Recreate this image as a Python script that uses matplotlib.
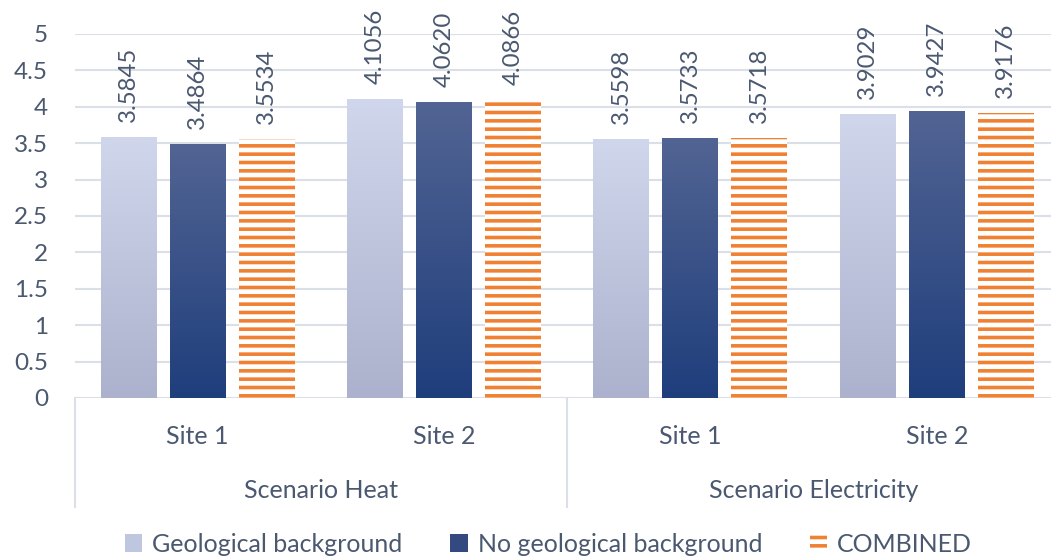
import numpy as np
import matplotlib
matplotlib.use("Agg")
import matplotlib.pyplot as plt
from matplotlib.colors import LinearSegmentedColormap
from matplotlib.patches import Patch
from matplotlib.lines import Line2D

# --- data -------------------------------------------------------------
scenarios = ["Scenario Heat", "Scenario Electricity"]
sites = ["Site 1", "Site 2", "Site 1", "Site 2"]
series_names = ["Geological background", "No geological background", "COMBINED"]
geological = [3.5845, 4.1056, 3.5598, 3.9029]
no_geological = [3.4864, 4.0620, 3.5733, 3.9427]
combined = [3.5534, 4.0866, 3.5718, 3.9176]
y_ticks = [0, 0.5, 1, 1.5, 2, 2.5, 3, 3.5, 4, 4.5, 5]

# --- style ------------------------------------------------------------
plt.rcParams["font.family"] = ["Lato", "DejaVu Sans"]
plt.rcParams["hatch.linewidth"] = 2.6
TEXT = "#4A5870"
GRID = "#DADFE8"
ORANGE = "#F08132"
geo_cmap = LinearSegmentedColormap.from_list("geo", ["#ACB2CD", "#D0D6EB"])
nogeo_cmap = LinearSegmentedColormap.from_list("nogeo", ["#1F3E7C", "#526493"])

fig = plt.figure(figsize=(10.51, 5.58), dpi=100)
ax = fig.add_axes([74.5 / 1051, 160 / 558, (1060 - 74.5) / 1051, 364 / 558])

x = np.arange(len(sites))
step = 0.28
width = 0.227


def gradient_bars(xpos, values, cmap):
    bars = ax.bar(xpos, values, width, color="none", linewidth=0)
    grad = np.linspace(0, 1, 256).reshape(-1, 1)
    for b in bars:
        x0, h = b.get_x(), b.get_height()
        im = ax.imshow(grad, extent=[x0, x0 + b.get_width(), 0, h],
                       origin="lower", aspect="auto", cmap=cmap, zorder=2)
        im.set_clip_path(b)
    return bars


b1 = gradient_bars(x - step, geological, geo_cmap)
b2 = gradient_bars(x, no_geological, nogeo_cmap)
b3 = ax.bar(x + step, combined, width, facecolor="white", edgecolor=ORANGE,
            hatch="--", linewidth=0, zorder=2)

for bars, vals in ((b1, geological), (b2, no_geological), (b3, combined)):
    for b, v in zip(bars, vals):
        ax.annotate(f"{v:.4f}", (b.get_x() + b.get_width() / 2, v),
                    xytext=(0, 15), textcoords="offset pixels",
                    ha="center", va="bottom", rotation=90,
                    fontsize=17.3, color=TEXT)

ax.set_xlim(-0.5, len(sites) - 0.5)
ax.set_ylim(0, 5)
ax.set_yticks(y_ticks)
ax.set_yticklabels([f"{t:g}" for t in y_ticks])
ax.tick_params(axis="y", length=0, pad=19, labelsize=17.5, labelcolor=TEXT)
ax.set_xticks([])
ax.grid(axis="y", color=GRID, linewidth=1.5, zorder=0)
ax.set_axisbelow(True)
for s in ax.spines.values():
    s.set_visible(False)

# two-level category axis
tr = ax.get_xaxis_transform()
for xi, name in zip(x, sites):
    ax.text(xi, -0.107, name, transform=tr, ha="center", va="center",
            fontsize=18, color=TEXT)
for gi, name in enumerate(scenarios):
    ax.text(gi * 2 + 0.5, -0.253, name, transform=tr, ha="center",
            va="center", fontsize=18, color=TEXT)
for xs in (-0.5, 1.5, 3.5):
    ax.add_line(Line2D([xs, xs], [0, -0.30], transform=tr, color=GRID,
                       linewidth=1.5, clip_on=False))

handles = [
    Patch(facecolor="#BFC6DF", edgecolor="none"),
    Patch(facecolor="#33497F", edgecolor="none"),
    Patch(facecolor="white", edgecolor=ORANGE, hatch="--", linewidth=0),
]
fig.legend(handles, series_names, loc="center", bbox_to_anchor=(0.522, 14 / 558),
           bbox_transform=fig.transFigure, ncol=3, frameon=False,
           fontsize=18, labelcolor=TEXT, handlelength=0.7, handleheight=0.7,
           handletextpad=0.4, columnspacing=1.9, borderpad=0)

fig.savefig("out.png", dpi=100)
